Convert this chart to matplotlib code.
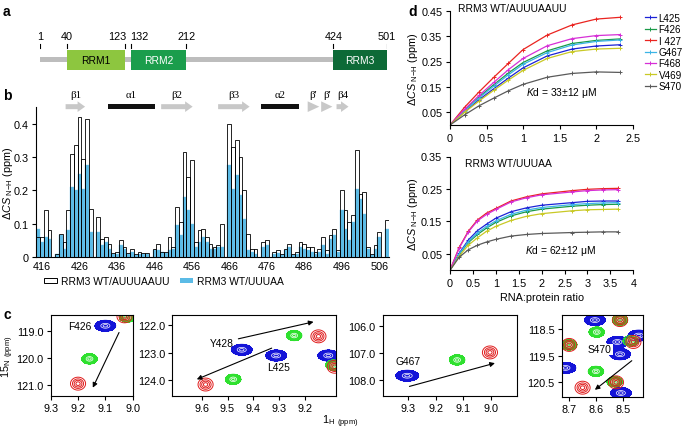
import numpy as np
import matplotlib
matplotlib.use('Agg')
import matplotlib.pyplot as plt
from matplotlib.patches import Rectangle, Polygon, Patch

plt.rcParams['font.family'] = ['Liberation Sans', 'DejaVu Sans']
plt.rcParams['font.size'] = 7.6
plt.rcParams['xtick.labelsize'] = 7.8
plt.rcParams['ytick.labelsize'] = 7.8
plt.rcParams['mathtext.fontset'] = 'custom'
plt.rcParams['mathtext.rm'] = 'Liberation Sans'
plt.rcParams['mathtext.it'] = 'Liberation Sans:italic'
plt.rcParams['mathtext.bf'] = 'Liberation Sans:bold'
plt.rcParams['axes.linewidth'] = 0.8
plt.rcParams['xtick.major.width'] = 0.8
plt.rcParams['ytick.major.width'] = 0.8
plt.rcParams['xtick.major.size'] = 3
plt.rcParams['ytick.major.size'] = 3
plt.rcParams['ytick.major.pad'] = 2.5
plt.rcParams['xtick.major.pad'] = 2.5

# ---------------- DATA ----------------
# panel a: domain architecture
domain_names = ['RRM1', 'RRM2', 'RRM3']
domain_start = [40, 132, 424]
domain_end = [123, 212, 501]
protein_length = 501
domain_ticks = [1, 40, 123, 132, 212, 424, 501]

# panel b: chemical-shift perturbation per residue (nan = not assigned)
residues = list(range(415, 509))
nan = np.nan
csp_auuuaauu = [
    0.06, 0.06, 0.14, 0.08, nan, 0.01, 0.07, 0.045, 0.14, 0.31,
    0.335, 0.42, 0.295, 0.415, 0.145, nan, 0.12, 0.055, 0.06, 0.04,
    0.012, 0.015, 0.05, 0.03, 0.012, 0.025, 0.01, 0.015, 0.012, 0.012,
    nan, 0.025, 0.04, 0.015, 0.015, 0.06, 0.03, 0.15, 0.105, 0.315,
    0.24, 0.29, 0.045, 0.08, 0.085, 0.06, 0.04, 0.03, 0.035, 0.10,
    nan, 0.40, 0.33, 0.35, 0.30, 0.20, 0.07, 0.025, 0.025, nan,
    0.045, 0.05, nan, 0.015, 0.02, 0.01, 0.025, 0.04, 0.01, 0.015,
    0.045, 0.04, 0.03, 0.03, 0.015, 0.025, 0.06, 0.02, 0.065, 0.085,
    0.02, 0.20, 0.14, 0.105, 0.125, 0.32, 0.19, 0.195, 0.03, 0.01,
    0.035, 0.075, nan, 0.11]
csp_uuuaa = [
    0.085, 0.045, 0.06, 0.055, nan, 0.01, 0.065, 0.025, 0.08, 0.21,
    0.20, 0.25, 0.205, 0.275, 0.075, nan, 0.075, 0.035, 0.045, 0.025,
    0.01, 0.01, 0.035, 0.025, 0.008, 0.015, 0.005, 0.01, 0.01, 0.008,
    nan, 0.02, 0.02, 0.015, 0.012, 0.02, 0.025, 0.095, 0.065, 0.18,
    0.14, 0.10, 0.03, 0.045, 0.06, 0.045, 0.025, 0.025, 0.03, 0.03,
    nan, 0.275, 0.205, 0.245, 0.185, 0.115, 0.02, 0.015, 0.01, nan,
    0.03, 0.035, nan, 0.01, 0.012, 0.005, 0.02, 0.03, 0.005, 0.01,
    0.03, 0.025, 0.02, 0.015, 0.01, 0.015, 0.035, 0.01, 0.055, 0.065,
    0.015, 0.14, 0.085, 0.05, 0.105, 0.205, 0.175, 0.13, 0.025, 0.005,
    0.025, 0.06, nan, 0.085]
b_ticks = [416, 426, 436, 446, 456, 466, 476, 486, 496, 506]
b_yticks = [0, 0.1, 0.2, 0.3, 0.4]

# secondary structure
ss_labels = ['β1', 'α1', 'β2', 'β3', 'α2', "β'", "β'", 'β4']
ss_kind = ['strand', 'helix', 'strand', 'strand', 'helix', 'head', 'head', 'strand']
ss_start = [422.3, 433.6, 447.8, 463.0, 474.5, 486.9, 490.5, 494.6]
ss_end = [427.5, 446.1, 456.2, 471.4, 484.6, 490.0, 493.5, 497.8]

# panel d: titrations
d_residues = ['L425', 'F426', 'I 427', 'G467', 'F468', 'V469', 'S470']
ratio_top = [0, 0.2, 0.4, 0.6, 0.8, 1.0, 1.33, 1.67, 2.0, 2.33]
top_L425 = [0, 0.052, 0.100, 0.143, 0.185, 0.225, 0.272, 0.299, 0.311, 0.316]
top_F426 = [0, 0.058, 0.111, 0.159, 0.205, 0.246, 0.292, 0.321, 0.333, 0.339]
top_I427 = [0, 0.070, 0.131, 0.188, 0.243, 0.297, 0.354, 0.394, 0.417, 0.424]
top_G467 = [0, 0.056, 0.107, 0.153, 0.198, 0.239, 0.285, 0.315, 0.329, 0.335]
top_F468 = [0, 0.062, 0.117, 0.168, 0.218, 0.262, 0.312, 0.340, 0.352, 0.356]
top_V469 = [0, 0.050, 0.095, 0.137, 0.177, 0.215, 0.262, 0.289, 0.299, 0.302]
top_S470 = [0, 0.040, 0.076, 0.106, 0.135, 0.160, 0.188, 0.203, 0.209, 0.207]

ratio_bot = [0, 0.2, 0.4, 0.6, 0.8, 1.0, 1.33, 1.67, 2.0, 2.67, 3.0, 3.33, 3.67]
bot_L425 = [0, 0.052, 0.093, 0.122, 0.142, 0.160, 0.180, 0.192, 0.200, 0.208, 0.212, 0.213, 0.213]
bot_F426 = [0, 0.048, 0.085, 0.110, 0.130, 0.147, 0.167, 0.180, 0.188, 0.197, 0.200, 0.202, 0.203]
bot_I427 = [0, 0.070, 0.120, 0.155, 0.176, 0.190, 0.213, 0.226, 0.235, 0.245, 0.249, 0.251, 0.252]
bot_G467 = [0, 0.050, 0.088, 0.115, 0.135, 0.152, 0.172, 0.185, 0.193, 0.202, 0.205, 0.207, 0.208]
bot_F468 = [0, 0.068, 0.118, 0.152, 0.172, 0.187, 0.210, 0.223, 0.232, 0.241, 0.245, 0.247, 0.248]
bot_V469 = [0, 0.043, 0.077, 0.100, 0.120, 0.135, 0.153, 0.166, 0.174, 0.183, 0.186, 0.187, 0.188]
bot_S470 = [0, 0.040, 0.063, 0.077, 0.087, 0.095, 0.105, 0.110, 0.113, 0.116, 0.117, 0.118, 0.118]

# panel c: HSQC peak positions (1H ppm, 15N ppm)
c1_peaks = {'blue': [(9.10, 118.80)], 'green': [(9.158, 120.03), (9.02, 118.48)],
            'red': [(9.20, 120.95), (9.03, 118.45)]}
c2_peaks = {'blue': [(9.445, 122.90), (9.312, 123.11), (9.11, 123.11)],
            'green': [(9.242, 122.38), (9.478, 123.98), (9.09, 123.46)],
            'red': [(9.148, 122.41), (9.585, 124.17), (9.085, 123.52)]}
c3_peaks = {'blue': [(9.304, 107.85)], 'green': [(9.123, 107.26)], 'red': [(9.004, 106.98)]}
c4_peaks = {'blue': [(8.604, 118.17), (8.52, 118.99), (8.51, 119.45), (8.714, 119.96),
                     (8.507, 120.90), (8.44, 118.75)],
            'green': [(8.597, 118.62), (8.70, 119.10), (8.60, 120.09), (8.53, 120.48),
                      (8.47, 118.95), (8.51, 118.17)],
            'red': [(8.70, 119.10), (8.46, 118.99), (8.65, 120.70), (8.525, 120.50),
                    (8.51, 118.17)]}

# ---------------- FIGURE ----------------
W, H = 685, 431
fig = plt.figure(figsize=(W / 100, H / 100), dpi=100)
TXT = 7.4


def fbox(l, t, r, b):
    return [l / W, 1 - b / H, (r - l) / W, (b - t) / H]


def clean(ax):
    ax.spines['top'].set_visible(False)
    ax.spines['right'].set_visible(False)


# panel labels
for lab, x, y in [('a', 3, 12), ('b', 3, 96), ('c', 3, 315), ('d', 408, 12)]:
    fig.text(x / W, 1 - y / H, lab, fontsize=10, fontweight='bold', va='center', ha='left')

# ---------- panel a ----------
ax_a = fig.add_axes(fbox(40, 30, 386.7, 75))
ax_a.set_xlim(1, protein_length)
ax_a.set_ylim(75, 30)
ax_a.axis('off')
ax_a.add_patch(Rectangle((1, 58.3), protein_length - 1, 5, color='#bdbdbd', lw=0))
dom_fc = ['#8dc63f', '#1b9d4c', '#0d6a37']
dom_tc = ['black', 'white', 'white']
for name, s, e, fc, tc in zip(domain_names, domain_start, domain_end, dom_fc, dom_tc):
    ax_a.add_patch(Rectangle((s, 50.7), e - s, 20, color=fc, lw=0))
    ax_a.text((s + e) / 2, 61, name, ha='center', va='center', color=tc, fontsize=TXT)
for t in domain_ticks:
    ax_a.plot([t, t], [45, 49.3], color='black', lw=0.8)
    ha = 'center'
    dx = 0
    if t == 123:
        ha, dx = 'right', 3
    elif t == 132:
        ha, dx = 'left', -1
    ax_a.text(t + dx, 37, str(t), ha=ha, va='center', fontsize=7.8)

# ---------- panel b ----------
ax_b = fig.add_axes(fbox(36, 108, 389, 258))
clean(ax_b)
res = np.array(residues, dtype=float)
wv = np.array(csp_auuuaauu, dtype=float)
bv = np.array(csp_uuuaa, dtype=float)
mw = ~np.isnan(wv)
mb = ~np.isnan(bv)
ax_b.bar(res[mb], bv[mb], width=1.0, color='#5bbbe6', edgecolor='#7cc9ec', lw=0.3, zorder=2)
ax_b.bar(res[mw], wv[mw], width=1.0, facecolor='none', edgecolor='black', lw=0.6, zorder=3)
ax_b.set_xlim(414.4, 508.6)
ax_b.set_ylim(0, 0.45)
ax_b.set_xticks(b_ticks)
ax_b.set_xticklabels([str(t) for t in b_ticks])
ax_b.tick_params(axis='x', length=0, pad=3)
ax_b.set_yticks(b_yticks)
ax_b.set_yticklabels(['0', '0.1', '0.2', '0.3', '0.4'])
ax_b.set_ylabel(r'$\Delta\mathit{CS}$$_{\rm\ N\!-\!H}$ (ppm)', fontsize=7.8)
ax_b.yaxis.set_label_coords(-0.0605, 0.5)

yc = 0.451
bh, hh, hb = 0.0075, 0.016, 0.0068
for lab, kind, s, e in zip(ss_labels, ss_kind, ss_start, ss_end):
    if kind == 'helix':
        ax_b.add_patch(Rectangle((s, yc - hb), e - s, 2 * hb, color='#111111', lw=0, clip_on=False))
    else:
        xh = max(s, e - 2.0)
        pts = [(s, yc - bh), (xh, yc - bh), (xh, yc - hh), (e, yc), (xh, yc + hh), (xh, yc + bh), (s, yc + bh)]
        if kind == 'head':
            pts = [(s, yc - hh), (e, yc), (s, yc + hh)]
        ax_b.add_patch(Polygon(pts, closed=True, color='#c8c8c8', lw=0, clip_on=False))
    ax_b.text((s + e) / 2, 0.487, lab, ha='center', va='center', fontsize=7.8,
              family=['Liberation Serif', 'DejaVu Serif'])

fig.legend(handles=[Patch(facecolor='white', edgecolor='black', lw=0.7),
                    Patch(facecolor='#5bbbe6', edgecolor='none')],
           labels=['RRM3 WT/AUUUAAUU', 'RRM3 WT/UUUAA'], ncol=2, frameon=False,
           loc='center', bbox_to_anchor=(164 / W, 1 - 282 / H), handlelength=1.3,
           handleheight=0.45, columnspacing=1.0, handletextpad=0.4, fontsize=TXT)

# ---------- panel d ----------
d_colors = ['#1c22d6', '#1a9a48', '#ea2420', '#3bb4e6', '#d62fd6', '#c9c926', '#5a5a5a']
top_series = [top_L425, top_F426, top_I427, top_G467, top_F468, top_V469, top_S470]
bot_series = [bot_L425, bot_F426, bot_I427, bot_G467, bot_F468, bot_V469, bot_S470]

ylab_d = r'$\Delta\mathit{CS}$$_{\rm\ N\!-\!H}$ (ppm)'
ax_d1 = fig.add_axes(fbox(450, 11.7, 632.7, 126))
clean(ax_d1)
lines = []
for name, col, ys in zip(d_residues, d_colors, top_series):
    ln, = ax_d1.plot(ratio_top, ys, color=col, lw=0.9, marker='+', ms=3.5, mew=0.7)
    lines.append(ln)
ax_d1.set_xlim(0, 2.5)
ax_d1.set_ylim(0, 0.45)
ax_d1.set_xticks([0, 0.5, 1, 1.5, 2, 2.5])
ax_d1.set_xticklabels(['0', '0.5', '1', '1.5', '2', '2.5'])
ax_d1.set_yticks([0.05, 0.15, 0.25, 0.35, 0.45])
ax_d1.set_yticklabels(['0.05', '0.15', '0.25', '0.35', '0.45'])
ax_d1.set_ylabel(ylab_d, fontsize=7.8)
ax_d1.yaxis.set_label_coords(-0.165, 0.5)
ax_d1.text(0.044, 1.025, 'RRM3 WT/AUUUAAUU', transform=ax_d1.transAxes, ha='left', va='center', fontsize=TXT)
ax_d1.text(1.53, 0.128, r'$\mathit{K}$d = 33±12 μM', ha='center', va='center', fontsize=TXT)

ax_d2 = fig.add_axes(fbox(450, 157.5, 633.3, 271.2))
clean(ax_d2)
for name, col, ys in zip(d_residues, d_colors, bot_series):
    ax_d2.plot(ratio_bot, ys, color=col, lw=0.9, marker='+', ms=3.5, mew=0.7)
ax_d2.set_xlim(0, 4)
ax_d2.set_ylim(0, 0.35)
ax_d2.set_xticks([0, 0.5, 1, 1.5, 2, 2.5, 3, 3.5, 4])
ax_d2.set_xticklabels(['0', '0.5', '1', '1.5', '2', '2.5', '3', '3.5', '4'])
ax_d2.set_yticks([0.05, 0.15, 0.25, 0.35])
ax_d2.set_yticklabels(['0.05', '0.15', '0.25', '0.35'])
ax_d2.set_ylabel(ylab_d, fontsize=7.8)
ax_d2.yaxis.set_label_coords(-0.165, 0.5)
ax_d2.set_xlabel('RNA:protein ratio', labelpad=3, fontsize=7.8)
ax_d2.text(0.08, 0.94, 'RRM3 WT/UUUAA', transform=ax_d2.transAxes, ha='left', va='center', fontsize=TXT)
ax_d2.text(2.42, 0.062, r'$\mathit{K}$d = 62±12 μM', ha='center', va='center', fontsize=TXT)

fig.legend(handles=lines, labels=d_residues, loc='upper left', bbox_to_anchor=(640 / W, 1 - 9 / H),
           frameon=False, handlelength=1.1, handletextpad=0.3, labelspacing=0.14, fontsize=7.1,
           borderpad=0)

# ---------- panel c ----------
peak_style = {'blue': dict(color='#1414d8', sx=6.0, sy=3.2),
              'green': dict(color='#2fe02f', sx=4.5, sy=3.0),
              'red': dict(color='#e01c1c', sx=4.2, sy=3.6)}


def spectrum(box, xlim, ylim, peaks, xt, yt, yfmt, size_scale=None):
    ax = fig.add_axes(box)
    ax.set_xlim(*xlim)
    ax.set_ylim(*ylim)
    wpx = box[2] * W
    hpx = box[3] * H
    kx = wpx / abs(xlim[1] - xlim[0])
    ky = hpx / abs(ylim[1] - ylim[0])
    xs = np.linspace(min(xlim), max(xlim), 400)
    ys = np.linspace(min(ylim), max(ylim), 400)
    X, Y = np.meshgrid(xs, ys)
    for key in ['blue', 'green', 'red']:
        st = peak_style[key]
        sx = st['sx'] * (size_scale.get(key, 1) if size_scale else 1)
        sy = st['sy']
        F = np.zeros_like(X)
        for (px, py) in peaks.get(key, []):
            F += np.exp(-0.5 * (((X - px) * kx / sx) ** 2 + ((Y - py) * ky / sy) ** 2))
        if key == 'red':
            ax.contour(X, Y, F, levels=[0.2, 0.42, 0.65, 0.88], colors=st['color'], linewidths=0.7)
        else:
            ax.contourf(X, Y, F, levels=[0.22, 100], colors=[st['color']])
            ax.contour(X, Y, F, levels=[0.22, 0.45], colors=[st['color']], linewidths=0.5)
            ax.contour(X, Y, F, levels=[0.75, 0.93], colors='white', linewidths=0.5)
    ax.set_xticks(xt)
    ax.set_xticklabels(['%.1f' % v for v in xt])
    ax.set_yticks(yt)
    ax.set_yticklabels([yfmt % v for v in yt])
    ax.tick_params(direction='out', length=3, pad=2)
    return ax


arrow_kw = dict(arrowstyle='-|>', color='black', lw=0.8, mutation_scale=7, shrinkA=0, shrinkB=0)

c1 = spectrum(fbox(50.7, 316, 132.7, 397.3), (9.30, 9.00), (121.42, 118.40), c1_peaks,
              [9.3, 9.2, 9.1, 9.0], [119.0, 120.0, 121.0], '%.1f')
c1.text(9.195, 118.80, 'F426', ha='center', va='center', fontsize=TXT)
c1.annotate('', xy=(9.146, 121.1), xytext=(9.05, 119.05), arrowprops=arrow_kw)
c1.set_ylabel(r'15$_{\rm N}$ $_{\rm (ppm)}$', fontsize=7.8)
c1.yaxis.set_label_coords(-0.42, 0.5)

c2 = spectrum(fbox(172, 316, 336, 397.3), (9.715, 9.08), (124.6, 121.63), c2_peaks,
              [9.6, 9.5, 9.4, 9.3, 9.2], [122.0, 123.0, 124.0], '%.1f')
c2.text(9.522, 122.65, 'Y428', ha='center', va='center', fontsize=TXT)
c2.text(9.304, 123.54, 'L425', ha='center', va='center', fontsize=TXT)
c2.annotate('', xy=(9.167, 121.88), xytext=(9.458, 122.5), arrowprops=arrow_kw)
c2.annotate('', xy=(9.619, 123.98), xytext=(9.329, 122.84), arrowprops=arrow_kw)

c3 = spectrum(fbox(382.7, 316, 516.7, 397.3), (9.393, 8.907), (108.62, 105.58), c3_peaks,
              [9.3, 9.2, 9.1, 9.0], [106.0, 107.0, 108.0], '%.1f', size_scale={'blue': 1.1})
c3.text(9.30, 107.29, 'G467', ha='center', va='center', fontsize=TXT)
c3.annotate('', xy=(8.986, 107.38), xytext=(9.296, 108.25), arrowprops=arrow_kw)

c4 = spectrum(fbox(561.7, 316, 643.3, 398.3), (8.728, 8.423), (121.06, 117.98), c4_peaks,
              [8.7, 8.6, 8.5], [118.5, 119.5, 120.5], '%.1f')
c4.text(8.585, 119.27, 'S470', ha='center', va='center', fontsize=TXT,
        bbox=dict(facecolor='white', edgecolor='none', pad=0.5))
c4.annotate('', xy=(8.604, 120.78), xytext=(8.466, 119.69), arrowprops=arrow_kw)

fig.text(340 / W, 1 - 422 / H, r'1$_{\rm H}$ $_{\rm (ppm)}$', ha='center', va='center', fontsize=7.8)

fig.savefig('out.png', dpi=100)
